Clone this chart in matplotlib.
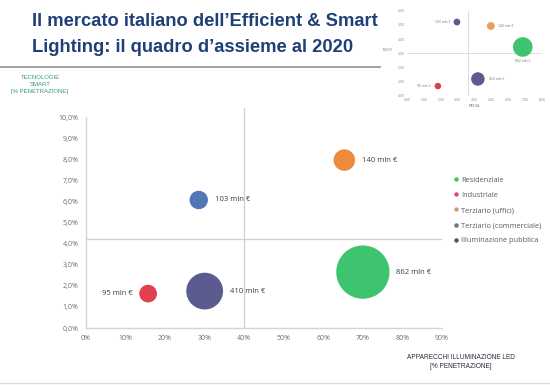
import matplotlib
matplotlib.use("Agg")
import matplotlib.pyplot as plt
from matplotlib.lines import Line2D
import numpy as np

# ---------------- data ----------------
categories = ["Residenziale", "Industriale", "Terziario (uffici)",
              "Terziario (commerciale)", "Illuminazione pubblica"]
led_penetration = [70.0, 15.7, 65.3, 28.5, 30.0]      # % (x)
smart_penetration = [2.65, 1.63, 7.96, 6.07, 1.75]    # % (y)
market_mln = [862, 95, 140, 103, 410]                 # mln €
colors = ["#3ec46f", "#e2404f", "#ee8a3c", "#5276b8", "#5c5b8f"]
legend_colors = ["#3ec46f", "#d94a6a", "#c8a080", "#707080", "#50506a"]

x_ticks = [0, 10, 20, 30, 40, 50, 60, 70, 80, 90]
x_ticklabels = ["0%", "10%", "20%", "30%", "40%", "50%", "60%", "70%", "80%", "90%"]
y_ticks = [0, 1, 2, 3, 4, 5, 6, 7, 8, 9, 10]
y_ticklabels = ["0,0%", "1,0%", "2,0%", "3,0%", "4,0%", "5,0%", "6,0%",
                "7,0%", "8,0%", "9,0%", "10,0%"]
x_threshold = 40.0
y_threshold = 4.2

# thumbnail (top-right) data
thumb_x = [6.86, 1.83, 4.97, 2.96, 4.20]
thumb_y = [3.44, 0.68, 4.92, 5.20, 1.18]
thumb_size = [862, 95, 140, 103, 410]
thumb_colors = ["#3ec46f", "#d9404f", "#e8a060", "#5c5b8f", "#5c5b8f"]
thumb_xticks = [0, 1, 2, 3, 4, 5, 6, 7, 8]
thumb_xticklabels = ["0,00", "1,00", "2,00", "3,00", "4,00", "5,00", "6,00", "7,00", "8,00"]
thumb_yticks = [0, 1, 2, 3, 4, 5, 6]
thumb_yticklabels = ["0,00", "1,00", "2,00", "3,00", "4,00", "5,00", "6,00"]
thumb_xline = 3.6
thumb_yline = 3.0

W, H = 550, 385
fig = plt.figure(figsize=(W / 100, H / 100), dpi=100)
fig.patch.set_facecolor("white")

def fx(px):
    return px / W

def fy(py):
    return 1 - py / H

# ---------------- title ----------------
title_color = "#1f3f78"
fig.text(fx(32), fy(22), "Il mercato italiano dell\u2019Efficient & Smart",
         fontsize=13.2, color=title_color, family="Liberation Sans",
         fontweight="bold", va="center", ha="left")
fig.text(fx(32), fy(47), "Lighting: il quadro d\u2019assieme al 2020",
         fontsize=13.2, color=title_color, family="Liberation Sans",
         fontweight="bold", va="center", ha="left")
fig.add_artist(Line2D([0, fx(380)], [fy(67), fy(67)], color="#9a9a9a", lw=1.3))
fig.add_artist(Line2D([0, 1], [fy(383), fy(383)], color="#dddddd", lw=1.0))

# ---------------- main axes ----------------
ax = fig.add_axes([fx(86), fy(328), fx(442) - fx(86), fy(108) - fy(328)])
ax.set_xlim(0, 90)
ax.set_ylim(0, 10.43)
for s in ["top", "right"]:
    ax.spines[s].set_visible(False)
for s in ["left", "bottom"]:
    ax.spines[s].set_color("#d4d4d4")
    ax.spines[s].set_linewidth(1.0)
ax.spines["left"].set_bounds(0, 10)

ax.axvline(x_threshold, color="#cfcfcf", lw=0.9, zorder=1)
ax.axhline(y_threshold, color="#cfcfcf", lw=0.9, zorder=1)

k = 1.71
sizes = [m * k for m in market_mln]
ax.scatter(led_penetration, smart_penetration, s=sizes, c=colors,
           edgecolors="none", zorder=3)

for xv, yv, m, s in zip(led_penetration, smart_penetration, market_mln, sizes):
    r = np.sqrt(s) / 2
    left = (m == 95)
    ax.annotate(f"{m} mln \u20ac", (xv, yv),
                xytext=(-(r + 4.8) if left else (r + 4.8), 0),
                textcoords="offset points", va="center",
                ha="right" if left else "left",
                fontsize=5.5, color="#3a3d4d", family="Open Sans")

ax.set_xticks(x_ticks)
ax.set_xticklabels(x_ticklabels)
ax.set_yticks(y_ticks)
ax.set_yticklabels(y_ticklabels)
ax.tick_params(length=0, labelsize=5, labelcolor="#6a6a7a")
ax.tick_params(axis="y", pad=5.5)
ax.tick_params(axis="x", pad=5)
for t in ax.get_xticklabels() + ax.get_yticklabels():
    t.set_family("Open Sans")

# legend
handles = [Line2D([0], [0], marker="o", linestyle="none", markersize=3.2,
                  markerfacecolor=c, markeredgecolor="none") for c in legend_colors]
leg = fig.legend(handles, categories, loc="upper left",
                 bbox_to_anchor=(fx(450), fy(173)), frameon=False,
                 handlelength=0.6, handletextpad=0.4, labelspacing=1.08,
                 prop={"family": "Open Sans", "size": 5.3}, borderpad=0)
for t in leg.get_texts():
    t.set_color("#5a5a6a")

# axis captions
fig.text(fx(40), fy(84.5), "TECNOLOGIE\nSMART\n[% PENETRAZIONE]", ha="center",
         va="center", fontsize=4.3, color="#3a9a6e", family="Liberation Sans",
         linespacing=1.4)
fig.text(fx(461), fy(362), "APPARECCHI ILLUMINAZIONE LED\n[% PENETRAZIONE]",
         ha="center", va="center", fontsize=4.7, color="#2a2a3a",
         family="Liberation Sans", linespacing=1.25)

# ---------------- thumbnail ----------------
tx = fig.add_axes([fx(407), fy(95.7), fx(542) - fx(407), fy(10.7) - fy(95.7)])
tx.set_xlim(0, 8)
tx.set_ylim(0, 6)
for s in tx.spines.values():
    s.set_visible(False)
tx.axvline(thumb_xline, color="#d8d8d8", lw=0.6, zorder=1)
tx.axhline(thumb_yline, color="#d8d8d8", lw=0.6, zorder=1)
tx.scatter(thumb_x, thumb_y, s=[v * 0.23 for v in thumb_size], c=thumb_colors,
           edgecolors="none", zorder=3)
tx.set_xticks(thumb_xticks)
tx.set_xticklabels(thumb_xticklabels)
tx.set_yticks(thumb_yticks)
tx.set_yticklabels(thumb_yticklabels)
tx.tick_params(length=0, labelsize=2.2, labelcolor="#888888", pad=1.5)
tx_labels = ["862 mln \u20ac", "95 mln \u20ac", "140 mln \u20ac", "103 mln \u20ac", "410 mln \u20ac"]
offsets = [(0, -10), (-5, 0), (5, 0), (-5, 0), (8, 0)]
has = ["center", "right", "left", "right", "left"]
for xv, yv, lab, off, ha in zip(thumb_x, thumb_y, tx_labels, offsets, has):
    tx.annotate(lab, (xv, yv), xytext=off, textcoords="offset points",
                ha=ha, va="center", fontsize=2.2, color="#777777")
tx.set_xlabel("MEDIA", fontsize=2.5, color="#777777", labelpad=1.5)
fig.text(fx(388), fy(50), "MEDIO", fontsize=2.2, color="#777777", ha="center", va="center")

fig.savefig("out.png", dpi=100, facecolor="white")
